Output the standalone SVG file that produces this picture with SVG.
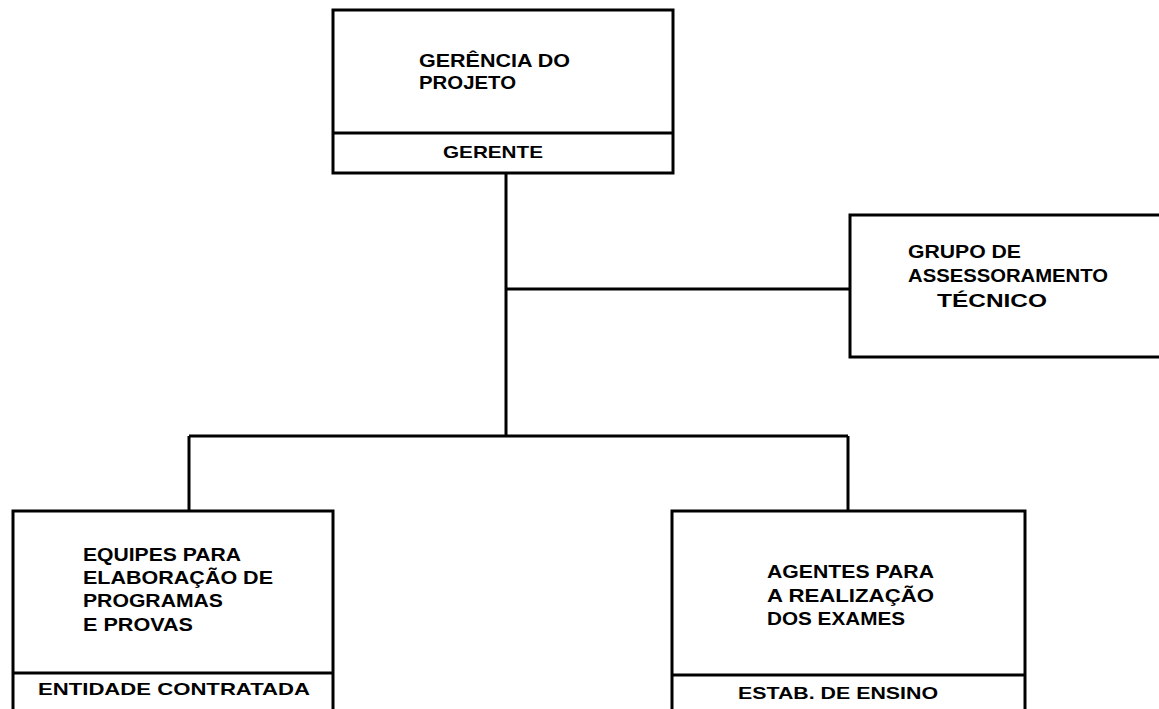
<svg xmlns="http://www.w3.org/2000/svg" width="1159" height="709" viewBox="0 0 1159 709">
<style>
.box{fill:#fff;stroke:#000;stroke-width:3}
.ln{stroke:#000;stroke-width:3;fill:none}
text{font-family:"Liberation Sans",Arial,sans-serif;font-weight:bold;fill:#000;font-size:19px}
.sm{font-size:17px}
</style>
<rect width="1159" height="709" fill="#fff"/>
<g id="connectors">
<line class="ln" x1="506" y1="173" x2="506" y2="436"/>
<line class="ln" x1="506" y1="289" x2="850" y2="289"/>
<line class="ln" x1="189" y1="436" x2="848" y2="436"/>
<line class="ln" x1="189" y1="436" x2="189" y2="511"/>
<line class="ln" x1="848" y1="436" x2="848" y2="511"/>
</g>
<g id="gerencia">
<rect class="box" x="333" y="10" width="340" height="163"/>
<line class="ln" x1="333" y1="133" x2="673" y2="133"/>
<text x="419" y="67" textLength="151" lengthAdjust="spacingAndGlyphs">GERÊNCIA DO</text>
<text x="419" y="89" textLength="97" lengthAdjust="spacingAndGlyphs">PROJETO</text>
<text class="sm" x="443" y="158" textLength="100" lengthAdjust="spacingAndGlyphs">GERENTE</text>
</g>
<g id="grupo">
<rect class="box" x="850" y="215" width="330" height="142"/>
<text x="908" y="258" textLength="113" lengthAdjust="spacingAndGlyphs">GRUPO DE</text>
<text x="908" y="282" textLength="200" lengthAdjust="spacingAndGlyphs">ASSESSORAMENTO</text>
<text x="937" y="307" textLength="110" lengthAdjust="spacingAndGlyphs">TÉCNICO</text>
</g>
<g id="equipes">
<rect class="box" x="13" y="511" width="320" height="220"/>
<line class="ln" x1="13" y1="673" x2="333" y2="673"/>
<text x="83" y="561" textLength="158" lengthAdjust="spacingAndGlyphs">EQUIPES PARA</text>
<text x="83" y="584" textLength="190" lengthAdjust="spacingAndGlyphs">ELABORAÇÃO DE</text>
<text x="83" y="607" textLength="140" lengthAdjust="spacingAndGlyphs">PROGRAMAS</text>
<text x="83" y="631" textLength="110" lengthAdjust="spacingAndGlyphs">E PROVAS</text>
<text class="sm" x="38" y="695" textLength="272" lengthAdjust="spacingAndGlyphs">ENTIDADE CONTRATADA</text>
</g>
<g id="agentes">
<rect class="box" x="672" y="511" width="353" height="220"/>
<line class="ln" x1="672" y1="675" x2="1025" y2="675"/>
<text x="767" y="578" textLength="167" lengthAdjust="spacingAndGlyphs">AGENTES PARA</text>
<text x="767" y="602" textLength="167" lengthAdjust="spacingAndGlyphs">A REALIZAÇÃO</text>
<text x="767" y="625" textLength="138" lengthAdjust="spacingAndGlyphs">DOS EXAMES</text>
<text class="sm" x="738" y="699" textLength="200" lengthAdjust="spacingAndGlyphs">ESTAB. DE ENSINO</text>
</g>
</svg>
